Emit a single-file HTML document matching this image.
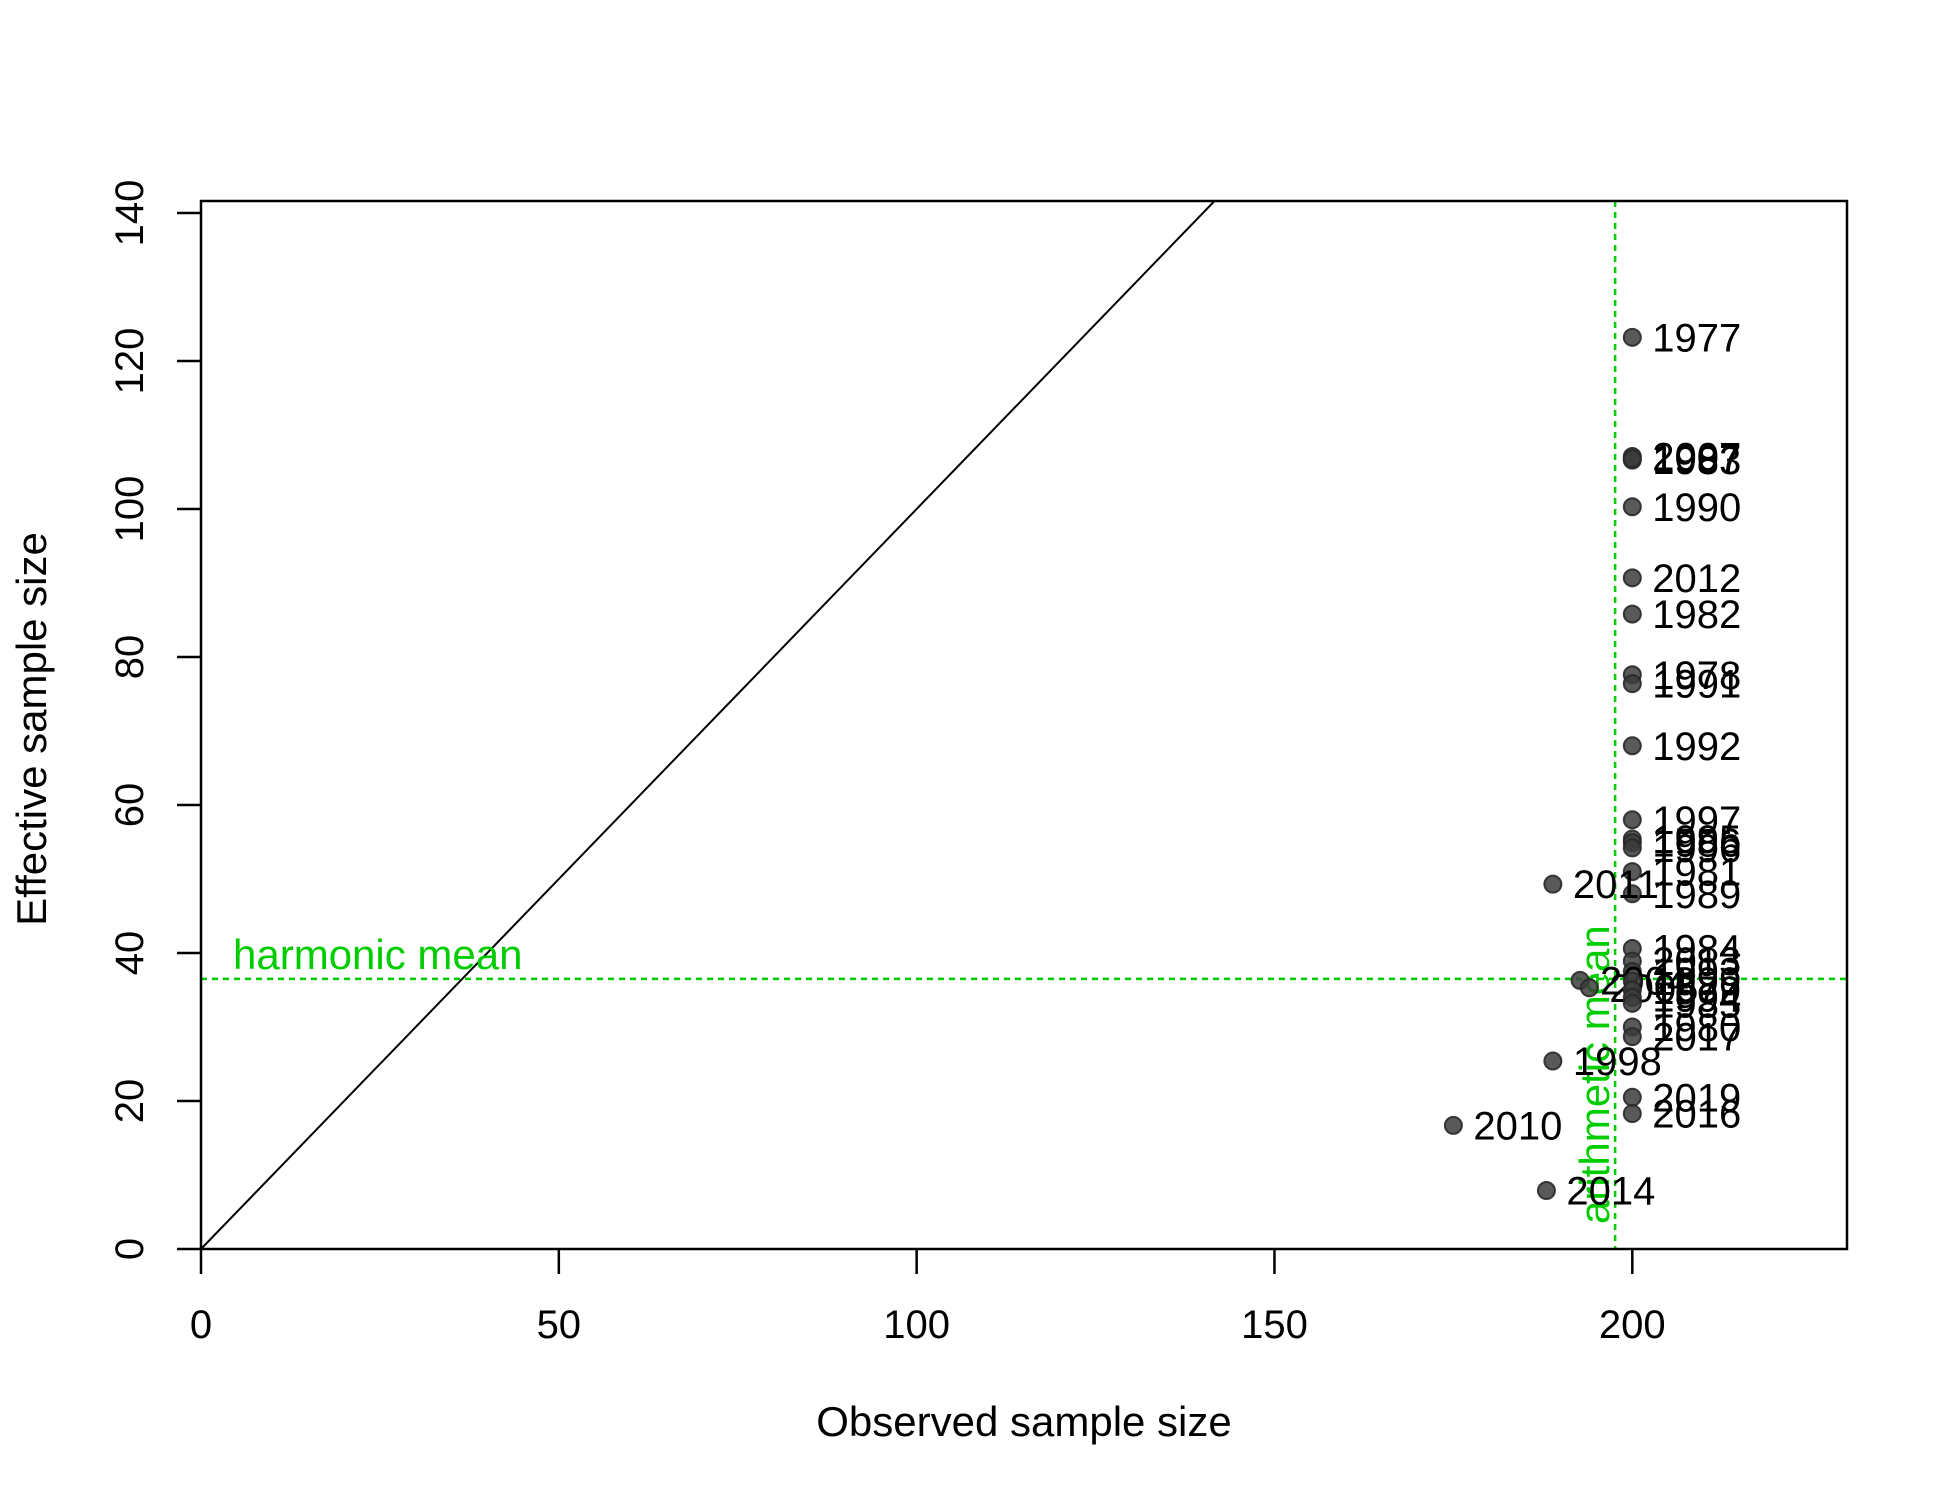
<!DOCTYPE html>
<html><head><meta charset="utf-8"><style>
html,body{margin:0;padding:0;background:#fff;}
svg{display:block;font-family:"Liberation Sans",Arial,sans-serif;}
</style></head><body>
<svg id="chart" width="1950" height="1500" viewBox="0 0 1950 1500" xmlns="http://www.w3.org/2000/svg"></svg>
<script>
const years = ["1977","2007","1983","1987","1990","2012","1982","1978","1991","1992","1997","1995","1986","1996","1981","1989","2011","1984","2013","1993","2004","2005","1999","1979","1994","1985","1980","2017","1998","2019","2016","2010","2014"];
const observed = [200,200,200,200,200,200,200,200,200,200,200,200,200,200,200,200,188.9,200,200,200,192.7,194,200,200,200,200,200,200,188.9,200,200,175,188];
const effective = [123.2,107.1,106.6,106.8,100.3,90.7,85.8,77.6,76.4,68,58,55.4,54.9,54.2,51,48,49.3,40.6,38.9,37.5,36.3,35.3,36.2,35,34,33.2,30,28.7,25.4,20.5,18.3,16.7,7.9];
const xTicks = [0,50,100,150,200];
const yTicks = [0,20,40,60,80,100,120,140];
const harmonicMean = 36.5;
const arithmeticMean = 197.6;

const L=201,R=1847,T=201,B=1249;
const X0=0,X1=230,Y0=0,Y1=(B-T)/7.4;
const sx=v=>L+(v-X0)/(X1-X0)*(R-L);
const sy=v=>B-(v-Y0)/(Y1-Y0)*(B-T);
const svg=document.getElementById('chart');
const NS="http://www.w3.org/2000/svg";
function mk(tag,attrs,parent){const e=document.createElementNS(NS,tag);for(const k in attrs)e.setAttribute(k,attrs[k]);(parent||svg).appendChild(e);return e;}

const defs=mk('defs',{});
const cp=mk('clipPath',{id:'pc'},defs);
mk('rect',{x:L,y:T,width:R-L,height:B-T},cp);

const diag=mk('line',{x1:sx(0),y1:sy(0),x2:sx(200),y2:sy(200),stroke:'#000','stroke-width':2,'clip-path':'url(#pc)'});



const hl=mk('line',{x1:L,x2:R,y1:sy(harmonicMean),y2:sy(harmonicMean),stroke:'#00cd00','stroke-width':2.5,'stroke-dasharray':'6,5'});


const al=mk('line',{x1:sx(arithmeticMean),x2:sx(arithmeticMean),y1:T,y2:B,stroke:'#00cd00','stroke-width':2.5,'stroke-dasharray':'6,5'});



const ht=mk('text',{x:233,y:sy(harmonicMean)-10,'font-size':42,fill:'#00cd00'});
ht.textContent='harmonic mean';


const at=mk('text',{transform:`translate(${sx(arithmeticMean)-6},1224) rotate(-90)`,'font-size':42,fill:'#00cd00'});
at.textContent='arithmetic mean';



years.forEach((yr,i)=>{
  const cx=sx(observed[i]),cy=sy(effective[i]);
  const c=mk('circle',{cx:cx,cy:cy,r:8.5,fill:'rgba(60,60,60,0.85)',stroke:'rgba(40,40,40,0.9)','stroke-width':2});
  
  
  const t=mk('text',{x:cx+20,y:cy+14,'font-size':40,fill:'#000'});
  t.textContent=yr;
  
  
});

const box=mk('rect',{x:L,y:T,width:R-L,height:B-T,fill:'none',stroke:'#000','stroke-width':2.5});



xTicks.forEach(v=>{
  const tk=mk('line',{x1:sx(v),x2:sx(v),y1:B,y2:B+25,stroke:'#000','stroke-width':2.5});
  
  
  const tl=mk('text',{x:sx(v),y:1338,'font-size':40,'text-anchor':'middle'});
  tl.textContent=v;
  
  
});
yTicks.forEach(v=>{
  const tk=mk('line',{x1:L-24,x2:L,y1:sy(v),y2:sy(v),stroke:'#000','stroke-width':2.5});
  
  
  const tl=mk('text',{transform:`translate(143,${sy(v)}) rotate(-90)`,'font-size':40,'text-anchor':'middle'});
  tl.textContent=v;
  
  
});
const xt=mk('text',{x:1024,y:1436,'font-size':42,'text-anchor':'middle'});
xt.textContent='Observed sample size';


const yt=mk('text',{transform:'translate(46,729) rotate(-90)','font-size':42,'text-anchor':'middle'});
yt.textContent='Effective sample size';


</script>
</body></html>
